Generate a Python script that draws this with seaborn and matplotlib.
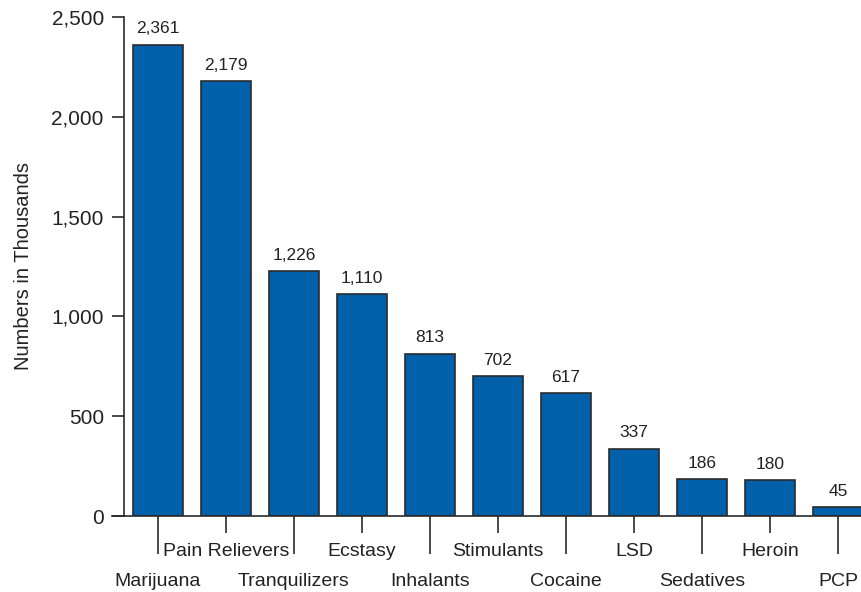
import numpy as np
import seaborn as sns
import matplotlib.pyplot as plt

drugs = ['Marijuana', 'Pain Relievers', 'Tranquilizers', 'Ecstasy', 'Inhalants',
         'Stimulants', 'Cocaine', 'LSD', 'Sedatives', 'Heroin', 'PCP']
users_thousands = [2361, 2179, 1226, 1110, 813, 702, 617, 337, 186, 180, 45]
yticks = [0, 500, 1000, 1500, 2000, 2500]

BAR_COLOR = '#0060A9'
EDGE_COLOR = '#2b2b2b'
TEXT_COLOR = '#222222'

sns.set_style('white')
plt.rcParams['font.family'] = ['Liberation Sans', 'DejaVu Sans']

fig = plt.figure(figsize=(8.61, 5.92), dpi=100)
ax = fig.add_axes([112 / 861, 1 - 516 / 592, (861 - 112) / 861, (516 - 17) / 592])

sns.barplot(x=drugs, y=users_thousands, color=BAR_COLOR, edgecolor=EDGE_COLOR,
            linewidth=1.2, width=0.735, saturation=1, ax=ax)

ax.bar_label(ax.containers[0], labels=[f'{v:,}' for v in users_thousands],
             padding=6, fontsize=12.5, color=TEXT_COLOR)

ax.set_ylim(0, 2500)
ax.set_xlim(-0.676, 10.338)
ax.set_yticks(yticks, [f'{v:,}' for v in yticks])
ax.set_ylabel('Numbers in Thousands', fontsize=14.5, color=TEXT_COLOR, labelpad=13)

# alternate labels on two rows: long ticks for the lower row, short ones for the upper
pos = np.arange(len(drugs))
ax.set_xticks(pos[::2], [drugs[i] for i in pos[::2]])
ax.set_xticks(pos[1::2], [drugs[i] for i in pos[1::2]], minor=True)
ax.tick_params(axis='x', which='major', length=27, width=1.2, color=EDGE_COLOR,
               pad=14, labelsize=14, labelcolor=TEXT_COLOR, direction='out', bottom=True)
ax.tick_params(axis='x', which='minor', length=12.5, width=1.2, color=EDGE_COLOR,
               pad=7, labelsize=14, labelcolor=TEXT_COLOR, direction='out', bottom=True)
ax.tick_params(axis='y', length=8.5, width=1.2, color=EDGE_COLOR, direction='out',
               left=True, pad=6, labelsize=15, labelcolor=TEXT_COLOR)

for s in ['top', 'right']:
    ax.spines[s].set_visible(False)
ax.spines['left'].set_position(('data', -0.5))
for s in ['left', 'bottom']:
    ax.spines[s].set_linewidth(1.2)
    ax.spines[s].set_color(EDGE_COLOR)

ax.set_xlabel('')
fig.savefig('out.png', dpi=100)
